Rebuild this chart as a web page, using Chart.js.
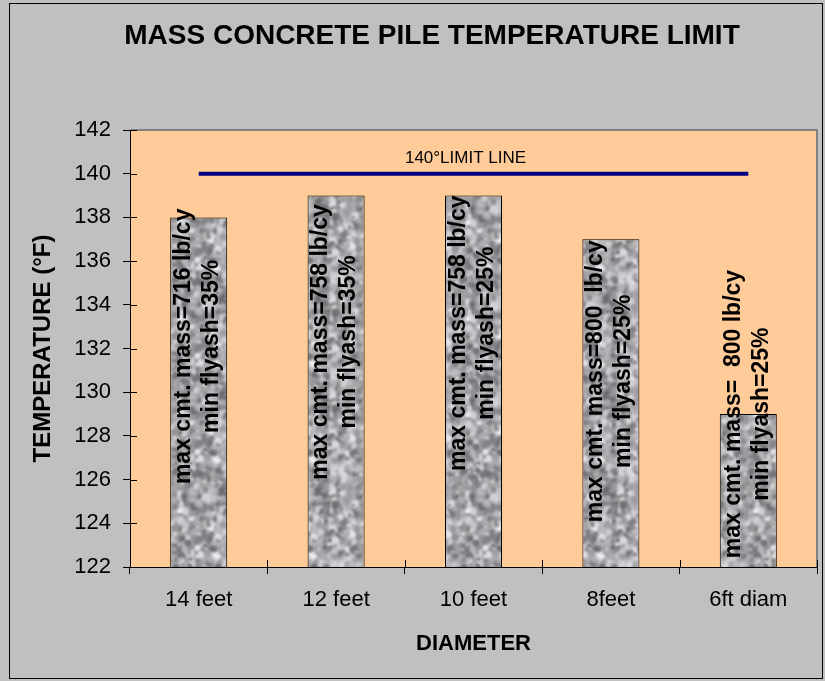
<!DOCTYPE html>
<html>
<head>
<meta charset="utf-8">
<script src="https://cdn.jsdelivr.net/npm/chart.js@4.4.1/dist/chart.umd.min.js"></script>
<style>
  html, body { margin: 0; padding: 0; background: #c0c0c0; }
  #wrap { width: 825px; height: 681px; }
</style>
</head>
<body>
<div id="wrap"><canvas id="chart1" width="825" height="681"></canvas></div>
<script>
// chart values
const diameters = ["14 feet", "12 feet", "10 feet", "8feet", "6ft diam"];
const peakTemps = [138, 139, 139, 137, 129];
const limitTemps = [140, 140, 140, 140, 140];
const mixLabels = [
  "max cmt. mass=716 lb/cy",
  "max cmt. mass=758 lb/cy",
  "max cmt. mass=758 lb/cy",
  "max cmt. mass=800  lb/cy",
  "max cmt. mass=  800 lb/cy",
];
const flyashLabels = [
  "min flyash=35%",
  "min flyash=35%",
  "min flyash=25%",
  "min flyash=25%",
  "min flyash=25%",
];

const FONT = "'Liberation Sans', Arial, sans-serif";
Chart.defaults.font.family = FONT;
Chart.defaults.color = "#000";

// granite-like texture for the bars (fixed seed so it is the same every run)
function makeGranite() {
  const S = 96;
  let seed = 12345;
  const rnd = () => {
    seed = (seed * 16807) % 2147483647;
    return seed / 2147483647;
  };
  const raw = document.createElement("canvas");
  raw.width = raw.height = S;
  const c = raw.getContext("2d");
  c.fillStyle = "#a4a4a4";
  c.fillRect(0, 0, S, S);
  for (let i = 0; i < 900; i++) {
    const g = Math.floor(90 + rnd() * 155);
    c.fillStyle = "rgba(" + g + "," + g + "," + (g + 5) + ",0.75)";
    const x = rnd() * S, y = rnd() * S, r = 1.2 + rnd() * 2.6;
    for (const dx of [-S, 0, S]) {
      for (const dy of [-S, 0, S]) {
        c.beginPath();
        c.arc(x + dx, y + dy, r, 0, Math.PI * 2);
        c.fill();
      }
    }
  }
  // tile 3x3, blur, keep the middle tile so the edges wrap without seams
  const big = document.createElement("canvas");
  big.width = big.height = S * 3;
  const b = big.getContext("2d");
  for (let i = 0; i < 3; i++) {
    for (let j = 0; j < 3; j++) b.drawImage(raw, i * S, j * S);
  }
  const out = document.createElement("canvas");
  out.width = out.height = S;
  const o = out.getContext("2d");
  o.filter = "blur(0.8px)";
  o.drawImage(big, -S, -S);
  return o.createPattern(out, "repeat");
}
const granite = makeGranite();

const frame = {
  id: "frame",
  beforeDraw(chart, args, opts) {
    const { ctx, chartArea: a } = chart;
    ctx.save();
    ctx.fillStyle = "#c0c0c0";
    ctx.fillRect(0, 0, chart.width, chart.height);
    ctx.strokeStyle = "#000";
    ctx.lineWidth = 1;
    ctx.strokeRect(9.5, 3.5, 813, 675);
    ctx.fillStyle = "#ffcc99";
    ctx.fillRect(a.left, a.top, a.right - a.left, a.bottom - a.top);
    ctx.strokeStyle = "#808080";
    ctx.lineWidth = 2;
    ctx.beginPath();
    ctx.moveTo(a.left, a.top);
    ctx.lineTo(a.right, a.top);
    ctx.lineTo(a.right, a.bottom);
    ctx.stroke();
    // chart title
    ctx.fillStyle = "#000";
    ctx.font = "bold 28px " + FONT;
    ctx.textAlign = "center";
    ctx.textBaseline = "middle";
    ctx.fillText(opts.title, 432, 36);
    ctx.restore();
  },
  afterDraw(chart) {
    // tick marks also cross into the plot area
    const { ctx, chartArea: a, scales } = chart;
    ctx.save();
    ctx.strokeStyle = "#000";
    ctx.lineWidth = 1;
    ctx.beginPath();
    scales.y.ticks.forEach((t, i) => {
      const y = Math.round(scales.y.getPixelForTick(i)) + 0.5;
      ctx.moveTo(a.left, y);
      ctx.lineTo(a.left + 7, y);
    });
    for (let i = 0; i <= diameters.length; i++) {
      const x = Math.round(a.left + (i * (a.right - a.left)) / diameters.length) + 0.5;
      ctx.moveTo(x, a.bottom);
      ctx.lineTo(x, a.bottom - 7);
    }
    ctx.stroke();
    ctx.restore();
  },
};

const barText = {
  id: "barText",
  afterDatasetsDraw(chart, args, opts) {
    const { ctx, scales } = chart;
    const bars = chart.getDatasetMeta(0).data;
    ctx.save();
    ctx.fillStyle = "#000";
    ctx.font = "bold 23px " + FONT;
    ctx.textAlign = "center";
    ctx.textBaseline = "middle";
    bars.forEach((bar, i) => {
      const y = scales.y.getPixelForValue(opts.anchors[i]);
      ctx.save();
      ctx.translate(bar.x - 1, y);
      ctx.rotate(-Math.PI / 2);
      ctx.fillText(mixLabels[i], 0, -14);
      ctx.fillText(flyashLabels[i], 0, 14);
      ctx.restore();
    });
    // label of the limit line
    const pts = chart.getDatasetMeta(1).data;
    const mid = pts[Math.floor(pts.length / 2)];
    ctx.font = "17px " + FONT;
    ctx.fillText("140°LIMIT LINE", mid.x - 8, mid.y - 15);
    ctx.restore();
  },
};

const config1 = {
  type: "bar",
  data: {
    labels: diameters,
    datasets: [
      {
        label: "Peak temperature",
        data: peakTemps,
        backgroundColor: granite,
        borderColor: "#000",
        borderWidth: 1,
        barPercentage: 0.415,
        categoryPercentage: 1,
        order: 2,
      },
      {
        type: "line",
        label: "140°LIMIT LINE",
        data: limitTemps,
        borderColor: "#000080",
        borderWidth: 4,
        pointRadius: 0,
        fill: false,
        order: 1,
      },
    ],
  },
  options: {
    responsive: false,
    animation: false,
    layout: { padding: { left: 0, right: 8, top: 130, bottom: 0 } },
    plugins: {
      legend: { display: false },
      tooltip: { enabled: false },
      title: { display: false },
      frame: { title: "MASS CONCRETE PILE TEMPERATURE LIMIT" },
      barText: { anchors: [132.1, 132.3, 132.7, 130.5, 129.0] },
    },
    scales: {
      x: {
        offset: true,
        afterFit: (s) => { s.height = 114; },
        grid: { offset: true, drawOnChartArea: false, tickLength: 7, color: "#000" },
        border: { color: "#000", width: 1 },
        ticks: { font: { size: 22 }, color: "#000", padding: 13 },
        title: {
          display: true,
          text: "DIAMETER",
          font: { size: 22, weight: "bold" },
          color: "#000",
          padding: { top: 0, bottom: 24 },
        },
      },
      y: {
        min: 122,
        max: 142,
        afterFit: (s) => { s.width = 130; },
        grid: { drawOnChartArea: false, tickLength: 7, color: "#000" },
        border: { color: "#000", width: 1 },
        ticks: { stepSize: 2, font: { size: 22 }, color: "#000", padding: 12 },
        title: {
          display: true,
          text: "TEMPERATURE (°F)",
          font: { size: 24, weight: "bold" },
          color: "#000",
          padding: { top: 29, bottom: 0 },
        },
      },
    },
  },
  plugins: [frame, barText],
};

const chart1 = new Chart(document.getElementById("chart1"), config1);
</script>
</body>
</html>
